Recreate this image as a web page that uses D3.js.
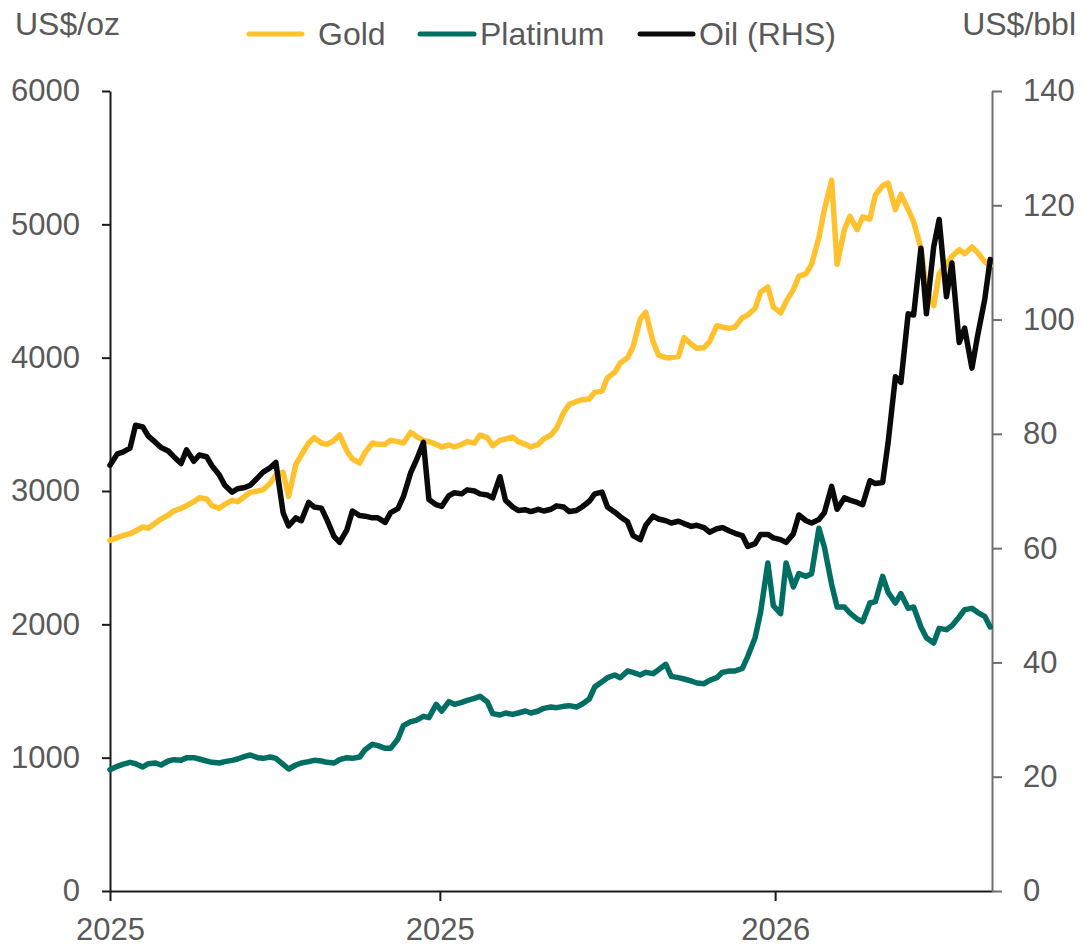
<!DOCTYPE html>
<html>
<head>
<meta charset="utf-8">
<script src="https://cdn.jsdelivr.net/npm/d3@7"></script>
<style>
  body { margin: 0; background: #fff; }
  svg text { font-family: "Liberation Sans", Arial, sans-serif; fill: #595959; }
</style>
</head>
<body>
<svg id="chart" width="1084" height="948"></svg>
<script>
// twice-weekly observations from 1 Jan 2025
const startDate = new Date(2025, 0, 1);
const dates = d3.range(139).map(i => d3.timeDay.offset(startDate, Math.round(i * 3.5)));

const gold = [
  2630, 2650, 2665, 2680, 2700, 2730, 2720, 2760, 2790, 2820,
  2850, 2870, 2890, 2920, 2950, 2940, 2890, 2870, 2900, 2930,
  2920, 2960, 2990, 3000, 3010, 3060, 3120, 3140, 2960, 3200,
  3270, 3360, 3400, 3360, 3350, 3380, 3420, 3300, 3240, 3210,
  3290, 3360, 3350, 3350, 3380, 3370, 3360, 3440, 3410, 3380,
  3370, 3350, 3330, 3345, 3330, 3350, 3370, 3360, 3420, 3400,
  3340, 3380, 3390, 3405, 3370, 3350, 3330, 3350, 3390, 3420,
  3470, 3590, 3650, 3670, 3685, 3690, 3740, 3750, 3850, 3890,
  3960, 4000, 4080, 4290, 4340, 4120, 4020, 4000, 4000, 4010,
  4150, 4100, 4070, 4075, 4120, 4240, 4230, 4220, 4230, 4300,
  4320, 4370, 4490, 4530, 4380, 4335, 4420, 4510, 4610, 4630,
  4700, 4900, 5110, 5330, 4700, 4960, 5060, 4960, 5055, 5040,
  5220, 5290, 5310, 5110, 5225, 5110, 5020, 4820, 4510, 4390,
  4630, 4700, 4760, 4810, 4780, 4830, 4790, 4720, 4690
];
const platinum = [
  910, 935, 950, 965, 955, 930, 955, 960, 945, 975,
  985, 980, 1000, 1000, 990, 975, 965, 960, 970, 980,
  990, 1010, 1020, 1000, 995, 1005, 995, 950, 915, 945,
  960, 970, 980, 975, 965, 960, 985, 1000, 995, 1005,
  1060, 1100, 1090, 1070, 1070, 1140, 1240, 1270, 1280, 1310,
  1300, 1400, 1350, 1420, 1400, 1415, 1430, 1445, 1460, 1420,
  1330, 1320, 1335, 1325, 1335, 1350, 1335, 1350, 1370, 1380,
  1375, 1385, 1390, 1380, 1400, 1440, 1530, 1570, 1600, 1620,
  1600, 1650, 1640, 1620, 1640, 1630, 1660, 1700, 1610, 1600,
  1590, 1575, 1560, 1555, 1580, 1600, 1640, 1650, 1650, 1670,
  1760, 1900, 2090, 2460, 2140, 2080, 2460, 2280, 2380, 2360,
  2380, 2720, 2580, 2300, 2130, 2130, 2085, 2040, 2020, 2160,
  2170, 2360, 2240, 2160, 2230, 2120, 2130, 1980, 1900, 1860,
  1970, 1960, 1990, 2055, 2110, 2120, 2090, 2060, 1980
];
const oil = [
  74.5, 76.5, 76.8, 77.5, 81.5, 81.2, 79.6, 78.5, 77.6, 77.0,
  76.0, 74.8, 77.2, 75.2, 76.3, 76.0, 74.4, 72.8, 71.0, 69.8,
  70.4, 70.6, 71.0, 72.3, 73.3, 74.1, 75.0, 66.2, 63.9, 65.3,
  64.8, 68.0, 67.2, 67.0, 65.0, 62.0, 61.0, 63.2, 66.5, 65.7,
  65.6, 65.3, 65.3, 64.5, 66.2, 66.9, 69.0, 73.2, 75.3, 78.5,
  68.5, 67.6, 67.3, 69.2, 69.7, 69.5, 70.2, 70.0, 69.5, 69.3,
  68.8, 72.5, 68.4, 67.2, 66.6, 66.7, 66.4, 66.8, 66.5, 66.8,
  67.4, 67.2, 66.4, 66.6, 67.2, 68.2, 69.5, 69.8, 67.2, 66.3,
  65.5, 64.6, 62.2, 61.5, 64.0, 65.6, 65.1, 64.8, 64.4, 64.7,
  64.3, 63.8, 64.0, 63.6, 62.8, 63.4, 63.6, 63.0, 62.6, 62.2,
  60.3, 60.8, 62.4, 62.4, 61.8, 61.5, 61.0, 62.5, 65.8, 64.8,
  64.4, 65.0, 66.2, 70.8, 66.8, 68.8, 68.4, 68.0, 67.6, 71.8,
  71.3, 71.5, 78.5, 90.0, 89.0, 101.0, 100.8, 112.5, 101.0, 112.7,
  117.5, 104.0, 109.9, 96.0, 98.5, 91.5, 97.0, 103.5, 110.5
];

const leftTicks = [0, 1000, 2000, 3000, 4000, 5000, 6000];
const rightTicks = [0, 20, 40, 60, 80, 100, 120, 140];
const xTicks = [new Date(2025, 0, 1), new Date(2025, 6, 1), new Date(2026, 0, 1)];

const series = [
  { name: "Gold", values: gold, axis: "left", color: "#FFC22E" },
  { name: "Platinum", values: platinum, axis: "left", color: "#006E62" },
  { name: "Oil (RHS)", values: oil, axis: "right", color: "#0a0a0a" }
];

const svg = d3.select("#chart"),
      margin = { top: 91, right: 92, bottom: 57, left: 110 },
      width = +svg.attr("width") - margin.left - margin.right,
      height = +svg.attr("height") - margin.top - margin.bottom,
      g = svg.append("g").attr("transform", `translate(${margin.left},${margin.top})`);

const x = d3.scaleTime()
            .domain([startDate, new Date(2026, 3, 30)])
            .range([0, width]);
const yL = d3.scaleLinear().domain([0, 6000]).range([height, 0]);
const yR = d3.scaleLinear().domain([0, 140]).range([height, 0]);

// axes
const xAxis = g.append("g")
   .attr("transform", `translate(0,${height})`)
   .call(d3.axisBottom(x).tickValues(xTicks).tickFormat(d3.timeFormat("%Y")).tickSize(10).tickSizeOuter(0).tickPadding(17));

const lAxis = g.append("g")
   .call(d3.axisLeft(yL).tickValues(leftTicks).tickFormat(d => d).tickSize(8).tickSizeOuter(0).tickPadding(22));

const rAxis = g.append("g")
   .attr("transform", `translate(${width},0)`)
   .call(d3.axisRight(yR).tickValues(rightTicks).tickSize(10).tickSizeOuter(0).tickPadding(21));

[xAxis, lAxis].forEach(a => {
  a.select(".domain").attr("stroke", "#1a1a1a").attr("stroke-width", 2);
  a.selectAll(".tick line").attr("stroke", "#1a1a1a").attr("stroke-width", 2);
});
rAxis.select(".domain").attr("stroke", "#6e6e6e").attr("stroke-width", 2);
rAxis.selectAll(".tick line").attr("stroke", "#6e6e6e").attr("stroke-width", 2);
g.selectAll(".tick text").attr("font-size", 31).style("fill", "#595959")
 .attr("font-family", "'Liberation Sans', Arial, sans-serif");

// lines
series.forEach(s => {
  const yScale = s.axis === "left" ? yL : yR;
  const line = d3.line()
                 .x((d, i) => x(dates[i]))
                 .y(d => yScale(d));
  g.append("path")
   .datum(s.values)
   .attr("fill", "none")
   .attr("stroke", s.color)
   .attr("stroke-width", 5.5)
   .attr("stroke-linejoin", "round")
   .attr("stroke-linecap", "round")
   .attr("d", line);
});

// axis titles
svg.append("text").attr("x", 15).attr("y", 35).attr("font-size", 32).text("US$/oz");
svg.append("text").attr("x", 1076).attr("y", 35).attr("font-size", 32)
   .attr("text-anchor", "end").text("US$/bbl");

// legend
const legendItems = [
  { name: "Gold", x1: 249, x2: 302, tx: 318 },
  { name: "Platinum", x1: 420, x2: 474, tx: 480 },
  { name: "Oil (RHS)", x1: 640, x2: 693, tx: 699 }
];
const legend = svg.append("g").attr("class", "legend");
legendItems.forEach((d, i) => {
  legend.append("line")
        .attr("x1", d.x1).attr("x2", d.x2)
        .attr("y1", 34).attr("y2", 34)
        .attr("stroke", series[i].color)
        .attr("stroke-width", 5)
        .attr("stroke-linecap", "round");
  legend.append("text")
        .attr("x", d.tx).attr("y", 45)
        .attr("font-size", 32)
        .text(d.name);
});
</script>
</body>
</html>
